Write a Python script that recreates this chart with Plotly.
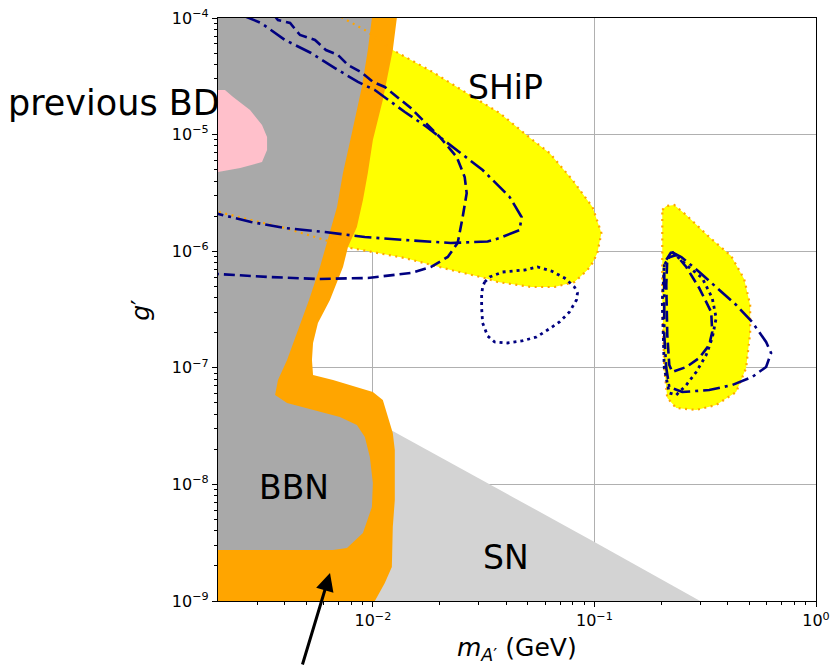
import plotly.graph_objects as go

# ---------------- data (m_A' in GeV, g') ----------------
sn_m = [0.00874, 0.1, 0.3, 0.00874]
sn_g = [4.10e-8, 3.21e-9, 1e-9, 1e-9]

ship_m = [0.0064, 0.00756, 0.0092, 0.0123, 0.01546, 0.01864, 0.02651, 0.03734, 0.05257, 0.0627,
          0.07961, 0.098, 0.1075, 0.1031, 0.098, 0.093, 0.0813, 0.066, 0.052, 0.03657, 0.03195,
          0.02246, 0.01394, 0.00796, 0.00608, 0.00401, 0.00282, 0.002, 0.001845, 0.001845, 0.0064]
ship_g = [1.15e-4, 9.61e-5, 7.89e-5, 5.31e-5, 4.20e-5, 3.44e-5, 2.27e-5, 1.532e-5, 8.99e-6, 6.96e-6,
          4.08e-6, 2.39e-6, 1.432e-6, 9.65e-7, 7.92e-7, 6.90e-7, 5.44e-7, 4.93e-7, 4.93e-7, 5.44e-7, 5.89e-7,
          6.90e-7, 8.74e-7, 1.065e-6, 1.247e-6, 1.581e-6, 1.852e-6, 2.17e-6, 2.26e-6, 1.15e-4, 1.15e-4]

ship2_m = [0.2024, 0.2110, 0.2293, 0.2597, 0.3296, 0.4141, 0.4739, 0.5044, 0.5044, 0.4838, 0.4362,
           0.3544, 0.2880, 0.2341, 0.2132, 0.2066, 0.2024, 0.2024, 0.2024]
ship2_g = [2.26e-6, 2.44e-6, 2.49e-6, 2.04e-6, 1.323e-6, 9.10e-7, 5.78e-7, 3.46e-7, 1.99e-7, 9.96e-8, 6.20e-8,
           4.80e-8, 4.35e-8, 4.52e-8, 5.51e-8, 9.96e-8, 3.82e-7, 1.247e-6, 2.26e-6]

band_m = [0.01283, 0.01230, 0.01109, 0.0100, 0.00949, 0.00902, 0.00847, 0.00772, 0.00733, 0.00640,
          0.00565, 0.00537, 0.00531, 0.00537, 0.00661, 0.00874, 0.0100, 0.01109, 0.01169, 0.01230,
          0.01256, 0.01256, 0.01230, 0.01218, 0.01132, 0.01021, 0.002, 0.002]
band_g = [1e-4, 5.31e-5, 1.98e-5, 8.99e-6, 4.69e-6, 2.75e-6, 1.61e-6, 1.086e-6, 7.32e-7, 3.82e-7,
          2.42e-7, 1.632e-7, 1.166e-7, 8.68e-8, 7.86e-8, 6.71e-8, 6.20e-8, 5.29e-8, 3.78e-8, 2.76e-8,
          1.972e-8, 7.35e-9, 4.31e-9, 1.956e-9, 1.427e-9, 1e-9, 1e-9, 1e-4]

bbn_m = [0.002, 0.0099, 0.00949, 0.00892, 0.00804, 0.00733, 0.00689, 0.00627, 0.00577, 0.00515,
         0.00455, 0.00410, 0.00373, 0.00362, 0.00410, 0.00537, 0.00710, 0.00847, 0.00920, 0.00969,
         0.0100, 0.00990, 0.00902, 0.00764, 0.00661, 0.002]
bbn_g = [1e-4, 1e-4, 5.31e-5, 2.56e-5, 1.032e-5, 4.69e-6, 2.39e-6, 1.247e-6, 7.32e-7, 3.82e-7,
         1.99e-7, 1.166e-7, 7.86e-8, 5.84e-8, 4.99e-8, 4.35e-8, 3.78e-8, 3.23e-8, 2.55e-8, 1.718e-8,
         1.028e-8, 6.40e-9, 3.83e-9, 2.85e-9, 2.74e-9, 2.74e-9]

bd_m = [0.002, 0.00215, 0.00234, 0.00279, 0.00316, 0.00333, 0.00333, 0.00316, 0.00252, 0.00205, 0.002]
bd_g = [2.41e-5, 2.41e-5, 2.10e-5, 1.626e-5, 1.208e-5, 9.54e-6, 7.38e-6, 5.82e-6, 5.17e-6, 4.78e-6, 4.78e-6]

dashdot1_m = [0.002624, 0.00313, 0.00401, 0.00526, 0.00674, 0.00856, 0.01021, 0.01394, 0.01751, 0.02292,
              0.03129, 0.04141, 0.0469, 0.04594, 0.03734, 0.03296, 0.02246, 0.01394, 0.0092, 0.00608,
              0.00401, 0.00282, 0.002, 0.001845]
dashdot1_g = [1.04e-4, 9.06e-5, 6.48e-5, 5.01e-5, 3.72e-5, 2.83e-5, 2.41e-5, 1.563e-5, 1.162e-5, 7.83e-6,
              4.97e-6, 2.92e-6, 1.965e-6, 1.52e-6, 1.297e-6, 1.21e-6, 1.176e-6, 1.247e-6, 1.323e-6, 1.461e-6,
              1.581e-6, 1.78e-6, 2.08e-6, 2.17e-6]

dashed1_m = [0.003544, 0.00373, 0.00423, 0.00469, 0.00548, 0.00614, 0.00696, 0.00772, 0.00883, 0.0100,
             0.01132, 0.01296, 0.01483, 0.02004, 0.02389, 0.02597, 0.02651, 0.02543, 0.02414, 0.02177,
             0.01825, 0.01483, 0.00949, 0.00565, 0.003365, 0.002, 0.001845]
dashed1_g = [1.082e-4, 9.61e-5, 9.06e-5, 7.15e-5, 6.48e-5, 5.31e-5, 4.82e-5, 3.95e-5, 3.44e-5, 2.83e-5,
             2.56e-5, 2.06e-5, 1.691e-5, 9.54e-6, 6.43e-6, 4.33e-6, 3.15e-6, 1.965e-6, 1.176e-6, 8.92e-7,
             7.32e-7, 6.50e-7, 5.89e-7, 5.78e-7, 6.01e-7, 6.37e-7, 6.4e-7]

dotted1_m = [0.03195, 0.03365, 0.03851, 0.04838, 0.05537, 0.06401, 0.07328, 0.0813, 0.08384, 0.08297,
             0.07716, 0.06956, 0.06141, 0.0548, 0.0469, 0.04056, 0.03545, 0.03296, 0.03129, 0.03097,
             0.03097, 0.03129, 0.03195]
dotted1_g = [5.44e-7, 6.01e-7, 6.63e-7, 6.90e-7, 7.32e-7, 6.76e-7, 5.89e-7, 4.93e-7, 4.38e-7, 3.82e-7,
             3.01e-7, 2.47e-7, 2.11e-7, 1.837e-7, 1.698e-7, 1.632e-7, 1.665e-7, 1.874e-7, 2.42e-7, 3.26e-7,
             4.21e-7, 4.93e-7, 5.44e-7]

dashdot2_m = [0.2223, 0.2466, 0.2972, 0.3544, 0.4362, 0.5149, 0.5954, 0.627, 0.5954, 0.5149, 0.4184,
              0.3296, 0.2491, 0.2177, 0.211, 0.2066, 0.2066, 0.2066, 0.2223]
dashdot2_g = [9.84e-7, 8.92e-7, 6.63e-7, 4.93e-7, 3.46e-7, 2.47e-7, 1.665e-7, 1.339e-7, 1.016e-7, 8.34e-8, 7.12e-8,
              6.45e-8, 6.20e-8, 6.84e-8, 9.96e-8, 1.911e-7, 5.13e-7, 7.92e-7, 9.84e-7]

dashed2_m = [0.2132, 0.2341, 0.2597, 0.2972, 0.3365, 0.3401, 0.3296, 0.2972, 0.2597, 0.2246, 0.2177,
             0.2132, 0.211, 0.2132]
dashed2_g = [8.74e-7, 9.28e-7, 7.32e-7, 4.83e-7, 3.01e-7, 2.03e-7, 1.569e-7, 1.213e-7, 1.016e-7, 9.20e-8, 1.057e-7,
             1.911e-7, 5.13e-7, 8.74e-7]

dotted2_m = [0.2246, 0.2597, 0.3066, 0.3401, 0.3544, 0.3401, 0.3195, 0.288, 0.2597, 0.2341, 0.2177,
             0.2066, 0.2024, 0.2066, 0.2246]
dotted2_g = [9.84e-7, 7.61e-7, 5.89e-7, 3.97e-7, 2.67e-7, 1.80e-7, 1.288e-7, 9.20e-8, 7.12e-8, 5.84e-8, 6.08e-8,
             9.96e-8, 3.67e-7, 7.61e-7, 9.84e-7]

x_ticks = [1e-2, 1e-1, 1e0]
x_ticktext = ["10<sup>−2</sup>", "10<sup>−1</sup>", "10<sup>0</sup>"]
y_ticks = [1e-9, 1e-8, 1e-7, 1e-6, 1e-5, 1e-4]
y_ticktext = ["10<sup>−9</sup>", "10<sup>−8</sup>", "10<sup>−7</sup>", "10<sup>−6</sup>", "10<sup>−5</sup>", "10<sup>−4</sup>"]

# ---------------- figure ----------------
NAVY = "#000080"
ORANGE = "#ffa500"
fig = go.Figure()


def fill(mx, gy, color, outline=None):
    if outline is None:
        line = dict(color=color, width=0)
    else:
        line = outline
    fig.add_trace(go.Scatter(x=mx, y=gy, mode="lines", fill="toself", fillcolor=color, line=line,
                             hoverinfo="skip", showlegend=False))


def curve(mx, gy, color, dash, width):
    fig.add_trace(go.Scatter(x=mx, y=gy, mode="lines", line=dict(color=color, dash=dash, width=width),
                             hoverinfo="skip", showlegend=False))


ORANGE_DOT = "2px,4.5px"
fill(sn_m, sn_g, "#d3d3d3")
fill(ship_m, ship_g, "#ffff00")
fill(ship2_m, ship2_g, "#ffff00", outline=dict(color=ORANGE, width=2.2, dash=ORANGE_DOT))
fill(band_m, band_g, ORANGE)
fill(bbn_m, bbn_g, "#a9a9a9")
fill(bd_m, bd_g, "#ffc0cb")
curve(ship_m, ship_g, ORANGE, ORANGE_DOT, 2.2)

DASHED = "11px,5px"
DASHDOT = "17px,5px,3px,5px"
DOTTED = "3px,4px"
curve(dashdot1_m, dashdot1_g, NAVY, DASHDOT, 2.6)
curve(dashed1_m, dashed1_g, NAVY, DASHED, 2.6)
curve(dotted1_m, dotted1_g, NAVY, DOTTED, 2.8)
curve(dashdot2_m, dashdot2_g, NAVY, DASHDOT, 2.6)
curve(dashed2_m, dashed2_g, NAVY, DASHED, 2.6)
curve(dotted2_m, dotted2_g, NAVY, DOTTED, 2.8)

x_minor = [k * 10.0 ** e for e in (-3, -2, -1) for k in range(2, 10) if 0.002 < k * 10.0 ** e < 1]
y_minor = [k * 10.0 ** e for e in (-9, -8, -7, -6, -5) for k in range(2, 10)]

axis_common = dict(type="log", showline=True, linecolor="black", linewidth=1.2, mirror=True,
                   ticks="outside", ticklen=5, tickwidth=1, tickcolor="black",
                   showgrid=True, gridcolor="#b0b0b0", gridwidth=1.2, zeroline=False, automargin=False,
                   layer="above traces", tickfont=dict(family="DejaVu Sans", size=16, color="black"))

fig.update_xaxes(range=[-2.69897, 0], tickmode="array", tickvals=x_ticks, ticktext=x_ticktext,
                 minor=dict(tickmode="array", tickvals=x_minor, ticks="outside", ticklen=3,
                            tickcolor="black", showgrid=False), **axis_common)
fig.update_yaxes(range=[-9, -4], tickmode="array", tickvals=y_ticks, ticktext=y_ticktext,
                 minor=dict(tickmode="array", tickvals=y_minor, ticks="outside", ticklen=3,
                            tickcolor="black", showgrid=False), **axis_common)

LBL = dict(family="DejaVu Sans", size=33, color="black")
TTL = dict(family="DejaVu Sans", size=25, color="black")
ann = [
    dict(text="SHiP", x=0.4816, y=0.8808, font=LBL),
    dict(text="BBN", x=0.1271, y=0.1947, font=LBL),
    dict(text="SN", x=0.4816, y=0.0746, font=LBL),
    dict(text="previous BD", x=-0.1747, y=0.8535, font=dict(family="DejaVu Sans", size=35, color="black")),
    dict(text="<i>m</i><sub><i>A</i>′</sub> (GeV)", x=0.5, y=-0.083, font=TTL),
    dict(text="<i>g</i>′", x=-0.13, y=0.5, textangle=-90, font=TTL),
]
annotations = [dict(xref="paper", yref="paper", showarrow=False, xanchor="center", yanchor="middle", **a) for a in ann]
annotations.append(dict(xref="paper", yref="paper", x=0.1873, y=0.048, text="", showarrow=True,
                        ax=-28, ay=93, arrowhead=2, arrowsize=1.2, arrowwidth=3, arrowcolor="black"))

fig.update_layout(width=831, height=666, margin=dict(l=218, r=15, t=18, b=65),
                  paper_bgcolor="white", plot_bgcolor="white", showlegend=False,
                  annotations=annotations)

fig.write_html("out.html")
